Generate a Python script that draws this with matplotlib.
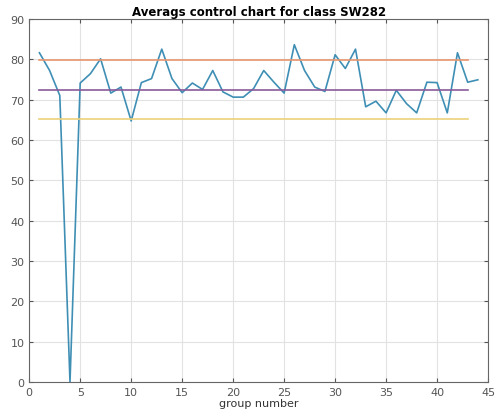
# averages control chart, class SW282
import numpy as np
import matplotlib.pyplot as plt

group = list(range(1, 45))
averages = [81.6, 77.2, 71.0, 0.0, 74.1, 76.4, 80.1, 71.6, 73.1, 64.7,
            74.2, 75.2, 82.5, 75.2, 71.7, 74.1, 72.5, 77.2, 71.9, 70.6,
            70.6, 72.7, 77.2, 74.3, 71.6, 83.6, 77.2, 73.1, 72.0, 81.1,
            77.7, 82.5, 68.2, 69.6, 66.7, 72.3, 69.0, 66.7, 74.3, 74.2,
            66.7, 81.6, 74.3, 74.9]
limit_x = [1, 43]
ucl = 79.8
cl = 72.4
lcl = 65.1

fig = plt.figure(figsize=(4.95, 4.14), dpi=100)
ax = fig.add_axes([0.059, 0.075, 0.927, 0.877])

ax.plot(group, averages, color='#3f8fb5', lw=1.2)
ax.plot(limit_x, [ucl, ucl], color='#e8966e', lw=1.2)
ax.plot(limit_x, [cl, cl], color='#8a5a9a', lw=1.2)
ax.plot(limit_x, [lcl, lcl], color='#ecd27a', lw=1.2)

ax.set_xlim(0, 45)
ax.set_ylim(0, 90)
ax.set_xticks(range(0, 46, 5))
ax.set_yticks(range(0, 91, 10))
ax.grid(True, color='#e2e2e2', lw=0.8)
ax.set_axisbelow(True)
ax.tick_params(direction='in', top=True, right=True, labelsize=8,
               colors='#555555', length=3)
for s in ax.spines.values():
    s.set_color('#666666')
    s.set_linewidth(0.8)

ax.set_title('Averags control chart for class SW282', fontsize=8.5,
             fontweight='bold', pad=3)
ax.set_xlabel('group number', fontsize=8, labelpad=1, color='#333333')

fig.savefig('out.png', dpi=100)
